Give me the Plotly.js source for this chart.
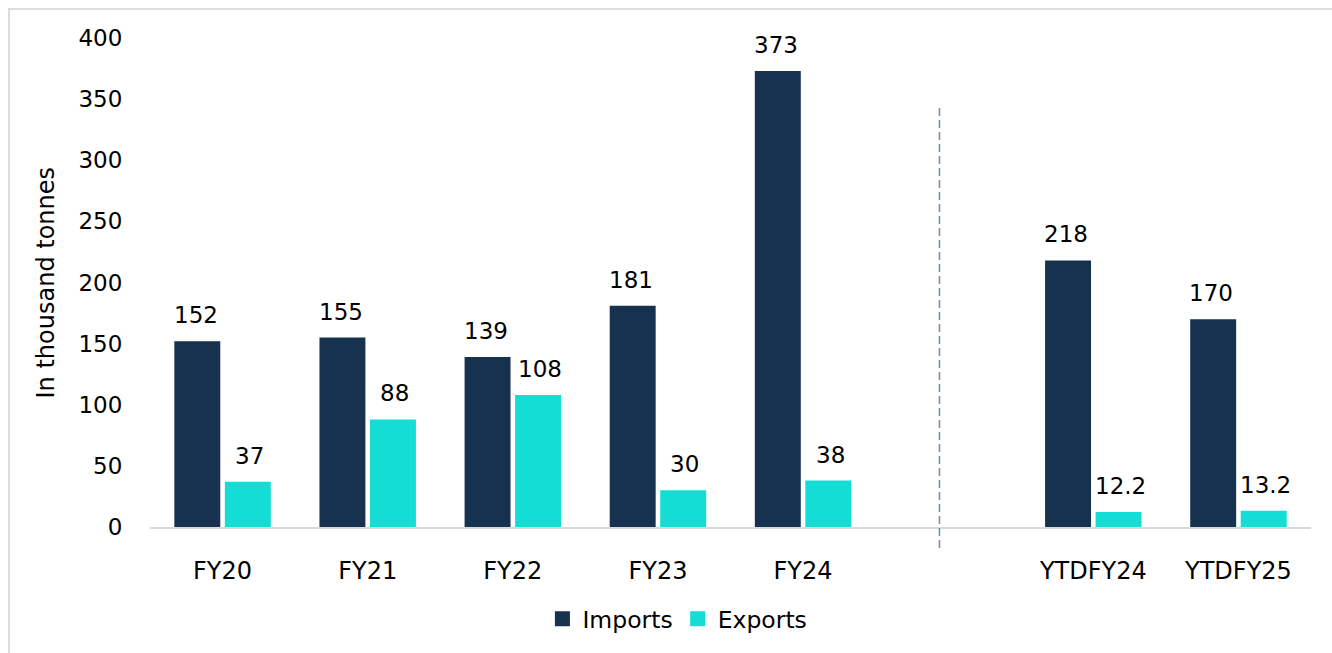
<!DOCTYPE html>
<html>
<head>
<meta charset="utf-8">
<script src="https://cdn.plot.ly/plotly-3.0.1.min.js"></script>
<style>
html,body{margin:0;padding:0;background:#fff;overflow:hidden;}
#chart{width:1332px;height:653px;position:absolute;left:0;top:0;}
#frame{position:absolute;left:8px;top:8px;width:1400px;height:700px;border-left:2px solid #dcdcdc;border-top:2px solid #dcdcdc;pointer-events:none;}
</style>
</head>
<body>
<div id="chart"></div>
<div id="frame"></div>
<script>
const categories = ["FY20","FY21","FY22","FY23","FY24"," ","YTDFY24","YTDFY25"];
const imports = [152,155,139,181,373,null,218,170];
const exports_ = [37,88,108,30,38,null,12.2,13.2];
const yTicks = [0,50,100,150,200,250,300,350,400];
const seriesNames = ["Imports","Exports"];

const FONT = "DejaVu Sans, Verdana, sans-serif";
const importColor = "#17324E";
const exportColor = "#13DDD4";
const TXT = "#000";

const traces = [
  {type:"bar", name:seriesNames[0], x:categories, y:imports, marker:{color:importColor}, showlegend:false},
  {type:"bar", name:seriesNames[1], x:categories, y:exports_, marker:{color:exportColor}, showlegend:false},
  {type:"scatter", mode:"markers", name:seriesNames[0], x:[null], y:[null],
    marker:{symbol:"square", size:15, color:importColor}, showlegend:true},
  {type:"scatter", mode:"markers", name:seriesNames[1], x:[null], y:[null],
    marker:{symbol:"square", size:15, color:exportColor}, showlegend:true}
];

const annotations = [];
categories.forEach((c,i)=>{
  if(imports[i]!==null){
    annotations.push({x:c, y:imports[i], xref:"x", yref:"y", text:String(imports[i]), showarrow:false,
      xshift:-27, yshift:26, yanchor:"middle", font:{family:FONT,size:23,color:TXT}});
  }
  if(exports_[i]!==null){
    annotations.push({x:c, y:exports_[i], xref:"x", yref:"y", text:String(exports_[i]), showarrow:false,
      xshift:27, yshift:26, yanchor:"middle", font:{family:FONT,size:23,color:TXT}});
  }
});
annotations.push({xref:"paper", yref:"paper", x:-0.0896, y:0.5, text:"In thousand tonnes", textangle:-90,
  showarrow:false, xanchor:"center", yanchor:"middle", font:{family:FONT,size:24,color:TXT}});

const layout = {
  width:1332, height:653,
  margin:{l:150, r:21, t:38, b:126},
  paper_bgcolor:"rgba(0,0,0,0)", plot_bgcolor:"rgba(0,0,0,0)",
  barmode:"group", bargap:0.304, bargroupgap:0.09,
  font:{family:FONT, size:23, color:TXT},
  showlegend:true,
  legend:{orientation:"h", x:0.338, xanchor:"left", y:-0.188, yanchor:"middle",
    font:{family:FONT,size:23.5,color:TXT}, traceorder:"normal", itemwidth:30},
  xaxis:{type:"category", categoryorder:"array", categoryarray:categories,
    showline:true, linecolor:"#d9d9d9", linewidth:2, showgrid:false, zeroline:false,
    ticks:"outside", ticklen:21, tickcolor:"rgba(0,0,0,0)",
    tickfont:{family:FONT,size:24,color:TXT}, fixedrange:true},
  yaxis:{range:[0,400], tickvals:yTicks, showgrid:false, zeroline:false, showline:false,
    ticks:"outside", ticklen:22, tickcolor:"rgba(0,0,0,0)",
    tickfont:{family:FONT,size:23,color:TXT}, fixedrange:true},
  annotations:annotations,
  shapes:[{type:"line", xref:"x", yref:"paper", x0:4.94, x1:4.94, y0:-0.043, y1:0.859,
    line:{color:"#6f8ca5", width:1.5, dash:"8px,4px"}}]
};

Plotly.newPlot("chart", traces, layout, {displayModeBar:false, staticPlot:true});
</script>
</body>
</html>
